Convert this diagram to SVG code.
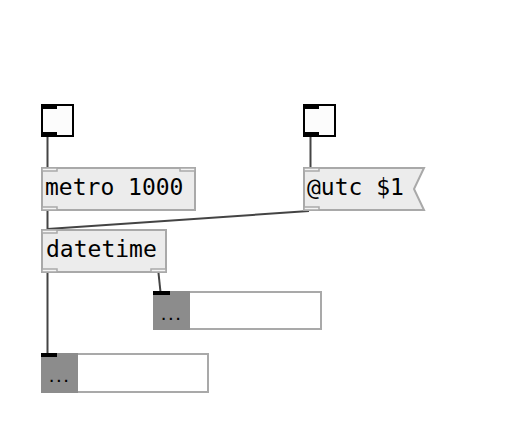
<svg xmlns="http://www.w3.org/2000/svg" width="515" height="432" viewBox="0 0 515 432">
<style>
.box{fill:#ececec;stroke:#a9a9a9;stroke-width:2}
.io{fill:#f4f4f4;stroke:#a9a9a9;stroke-width:1.5}
.tgl{fill:#fcfcfc;stroke:#000;stroke-width:2}
.blk{fill:#000}
.txt{font-family:"DejaVu Sans Mono",monospace;font-size:23px;fill:#000}
.dots{font-family:"DejaVu Sans Mono",monospace;font-size:12px;font-weight:bold;fill:#000}
.wire{stroke:#444;stroke-width:2;fill:none}
.gray{fill:#8c8c8c}
.atom{fill:#fff;stroke:#a9a9a9;stroke-width:2}
</style>
<rect width="515" height="432" fill="#fff"/>
<g id="connectors">
<line class="wire" x1="47.5" y1="137" x2="47.5" y2="167"/>
<line class="wire" x1="310.5" y1="137" x2="310.5" y2="167"/>
<line class="wire" x1="47.5" y1="211" x2="47.5" y2="229"/>
<line class="wire" x1="309" y1="211" x2="47.5" y2="229"/>
<line class="wire" x1="47.5" y1="273" x2="47.5" y2="353"/>
<line class="wire" x1="158.5" y1="273" x2="160.5" y2="292"/>
</g>
<g id="toggle1">
<rect class="tgl" x="42" y="105" width="31" height="31"/>
<rect class="blk" x="41" y="104" width="16" height="5"/>
<rect class="blk" x="41" y="132" width="16" height="5"/>
</g>
<g id="toggle2">
<rect class="tgl" x="304" y="105" width="31" height="31"/>
<rect class="blk" x="303" y="104" width="16" height="5"/>
<rect class="blk" x="303" y="132" width="16" height="5"/>
</g>
<g id="metro">
<rect class="box" x="42" y="168" width="153" height="42"/>
<rect class="io" x="42" y="168" width="15" height="3"/>
<rect class="io" x="180" y="168" width="15" height="3"/>
<rect class="io" x="42" y="207" width="15" height="3"/>
<text class="txt" x="45" y="195">metro 1000</text>
</g>
<g id="msg">
<polygon class="box" points="304,168 424,168 414,189 424,210 304,210"/>
<rect class="io" x="304" y="168" width="15" height="3"/>
<rect class="io" x="304" y="207" width="15" height="3"/>
<text class="txt" x="307" y="195">@utc $1</text>
</g>
<g id="datetime">
<rect class="box" x="42" y="230" width="124" height="42"/>
<rect class="io" x="42" y="230" width="15" height="3"/>
<rect class="io" x="42" y="269" width="15" height="3"/>
<rect class="io" x="151" y="269" width="15" height="3"/>
<text class="txt" x="46" y="257">datetime</text>
</g>
<g id="atom2">
<rect class="atom" x="154" y="292" width="167" height="37"/>
<rect class="gray" x="153" y="291" width="37" height="39"/>
<rect class="blk" x="153" y="291" width="17" height="4"/>
<text class="dots" x="160" y="320">...</text>
</g>
<g id="atom1">
<rect class="atom" x="42" y="354" width="166" height="38"/>
<rect class="gray" x="41" y="353" width="37" height="40"/>
<rect class="blk" x="41" y="353" width="16" height="4"/>
<text class="dots" x="48" y="382">...</text>
</g>
</svg>
